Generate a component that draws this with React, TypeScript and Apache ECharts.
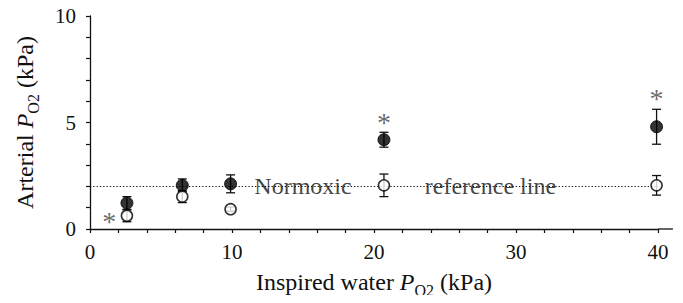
import React, { useEffect, useRef } from "react";
import * as echarts from "echarts";

const xValues = [2.6, 6.5, 9.9, 20.7, 39.9];
const filledMean = [1.22, 2.05, 2.12, 4.19, 4.8];
const filledErr = [0.3, 0.3, 0.42, 0.35, 0.82];
const openMean = [0.62, 1.52, 0.93, 2.05, 2.05];
const openErr = [0.28, 0.28, 0.1, 0.53, 0.46];
const asteriskPoints = [
  [1.36, 0.51],
  [20.7, 5.16],
  [39.9, 6.28],
];
const referenceValue = 2;
const referenceLabels: [number, number, string][] = [
  [15.0, 2, "Normoxic"],
  [28.2, 2, "reference line"],
];
const xTicks = { min: 0, max: 40, interval: 10 };
const yTicks = { min: 0, max: 10, interval: 5 };
const xAxisLineEnd = 41.05;

const FONT = "Liberation Serif";
const INK = "#111";
const TICK_FS = 21;
const NAME_FS = 24;

export default function App() {
  const ref = useRef<HTMLDivElement>(null);
  useEffect(() => {
    if (!ref.current) return;
    const chart = echarts.init(ref.current, undefined, { renderer: "svg" });

    const errData = (means: number[], errs: number[]) =>
      xValues.map((x, i) => [x, means[i] - errs[i], means[i] + errs[i]]);

    const errRender = (params: any, api: any) => {
      const x = api.value(0);
      const lo = api.coord([x, api.value(1)]);
      const hi = api.coord([x, api.value(2)]);
      const cap = 4.5;
      const style = { stroke: INK, lineWidth: 1.3 };
      return {
        type: "group",
        children: [
          { type: "line", shape: { x1: lo[0], y1: lo[1], x2: hi[0], y2: hi[1] }, style },
          { type: "line", shape: { x1: lo[0] - cap, y1: lo[1], x2: lo[0] + cap, y2: lo[1] }, style },
          { type: "line", shape: { x1: hi[0] - cap, y1: hi[1], x2: hi[0] + cap, y2: hi[1] }, style },
        ],
      };
    };

    const axisCommon = {
      axisLine: { show: true, lineStyle: { color: INK, width: 1.3 } },
      axisTick: { show: true, inside: false, length: 4, lineStyle: { color: INK, width: 1.2 } },
      minorTick: { show: true, length: 4, lineStyle: { color: INK, width: 1.2 } },
      splitLine: { show: false },
      minorSplitLine: { show: false },
      axisLabel: { color: INK, fontFamily: FONT, fontSize: TICK_FS },
    };

    const nameRich = {
      n: { fontFamily: FONT, fontSize: NAME_FS, color: INK, lineHeight: 32 },
      i: { fontFamily: FONT, fontSize: NAME_FS, color: INK, fontStyle: "italic", lineHeight: 32 },
      s: { fontFamily: FONT, fontSize: 16, color: INK, lineHeight: 16, verticalAlign: "bottom" },
    };

    const textLabelItem = { color: "transparent", borderWidth: 0 };

    chart.setOption({
      animation: false,
      backgroundColor: "#fff",
      grid: { left: 90, right: 25, top: 16, bottom: 73, containLabel: false },
      xAxis: {
        type: "value",
        ...xTicks,
        ...axisCommon,
        minorTick: { ...axisCommon.minorTick, splitNumber: 5 },
        axisLabel: { ...axisCommon.axisLabel, margin: 12 },
        name: "{n|Inspired water }{i|P}{s|O2}{n| (kPa)}",
        nameLocation: "middle",
        nameGap: 37,
        nameTextStyle: { rich: nameRich },
      },
      yAxis: {
        type: "value",
        ...yTicks,
        ...axisCommon,
        minorTick: { ...axisCommon.minorTick, splitNumber: 5 },
        axisLabel: { ...axisCommon.axisLabel, margin: 14 },
        name: "{n|Arterial }{i|P}{s|O2}{n| (kPa)}",
        nameLocation: "middle",
        nameGap: 49,
        nameTextStyle: { rich: nameRich },
      },
      series: [
        {
          type: "line",
          data: [],
          z: 1,
          markLine: {
            silent: true,
            symbol: "none",
            label: { show: false },
            lineStyle: { color: INK, type: [1.3, 2], width: 1.2 },
            data: [{ yAxis: referenceValue }],
          },
        },
        {
          type: "scatter",
          z: 3,
          symbol: "circle",
          symbolSize: 1,
          itemStyle: textLabelItem,
          data: referenceLabels,
          label: {
            show: true,
            position: "inside",
            formatter: (p: any) => p.value[2],
            fontFamily: FONT,
            fontSize: NAME_FS,
            color: INK,
            backgroundColor: "#fff",
            padding: [0, 1],
          },
        },
        {
          type: "custom",
          z: 4,
          renderItem: errRender,
          data: errData(filledMean, filledErr),
        },
        {
          type: "custom",
          z: 4,
          renderItem: errRender,
          data: errData(openMean, openErr),
        },
        {
          type: "scatter",
          z: 5,
          symbol: "circle",
          symbolSize: 12,
          itemStyle: { color: "#000", borderColor: "#000", borderWidth: 1 },
          data: xValues.map((x, i) => [x, filledMean[i]]),
        },
        {
          type: "scatter",
          z: 5,
          symbol: "circle",
          symbolSize: 11,
          itemStyle: { color: "#fff", borderColor: "#000", borderWidth: 1.6 },
          data: xValues.map((x, i) => [x, openMean[i]]),
        },
        {
          type: "scatter",
          z: 6,
          symbol: "circle",
          symbolSize: 1,
          itemStyle: textLabelItem,
          data: asteriskPoints,
          label: {
            show: true,
            position: "inside",
            formatter: "*",
            fontFamily: FONT,
            fontSize: 28,
            color: "#444",
            offset: [0, 3],
          },
        },
      ],
    });

    const a = chart.convertToPixel({ gridIndex: 0 }, [xTicks.max, 0]) as number[];
    const b = chart.convertToPixel({ gridIndex: 0 }, [xAxisLineEnd, 0]) as number[];
    chart.setOption({
      graphic: [
        {
          type: "line",
          shape: { x1: a[0], y1: a[1], x2: b[0], y2: b[1] },
          style: { stroke: INK, lineWidth: 1.3 },
        },
      ],
    });

    return () => chart.dispose();
  }, []);
  return <div ref={ref} style={{ width: 683, height: 303, margin: -8 }} />;
}
